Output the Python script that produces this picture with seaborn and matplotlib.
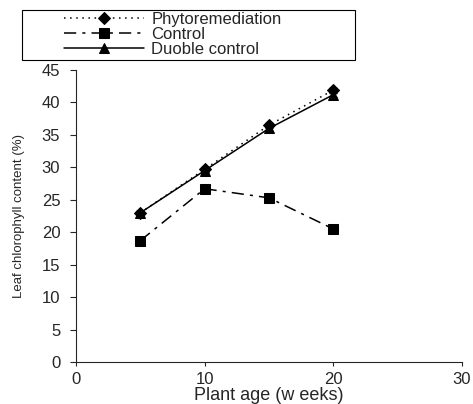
import matplotlib
matplotlib.use("Agg")
import matplotlib.pyplot as plt
import seaborn as sns
import pandas as pd
from matplotlib.patches import Rectangle

weeks = [5, 10, 15, 20]
phyto = [23.0, 29.7, 36.5, 41.9]
control = [18.7, 26.7, 25.3, 20.5]
double = [23.0, 29.5, 36.0, 41.2]
phyto_err = [0.3, 0.4, 0.4, 0.4]
control_err = [0.3, 0.3, 0.3, 0.3]
double_err = [0.3, 0.4, 0.4, 0.4]
series_names = ["Phytoremediation", "Control", "Duoble control"]

sns.set_style("ticks")
plt.rcParams['font.family'] = ['Liberation Sans', 'DejaVu Sans']

W, H = 473, 404
fig = plt.figure(figsize=(4.73, 4.04), dpi=100)
ax = fig.add_axes([76 / W, 1 - 362 / H, 386 / W, 292 / H])

specs = [
    (phyto, phyto_err, (0, (1, 3)), "D", 6),
    (control, control_err, (0, (8, 4, 2, 4)), "s", 7),
    (double, double_err, "-", "^", 7),
]
for name, (vals, errs, ls, mk, ms) in zip(series_names, specs):
    df = pd.DataFrame({"x": weeks, "y": vals})
    sns.lineplot(data=df, x="x", y="y", ax=ax, color="black", linestyle=ls,
                 marker=mk, markersize=ms, markeredgecolor="black", lw=1.1, label=name)
    ax.errorbar(weeks, vals, yerr=errs, fmt="none", ecolor="black", elinewidth=0.8, capsize=3)

ax.set_xlim(0, 30)
ax.set_ylim(0, 45)
ax.set_xticks([0, 10, 20, 30])
ax.set_yticks(range(0, 50, 5))
ax.tick_params(axis="x", direction="out", length=3, labelsize=12, pad=4)
ax.tick_params(axis="y", direction="out", length=4.3, labelsize=12, pad=7)
sns.despine(ax=ax)
for s in ["left", "bottom"]:
    ax.spines[s].set_linewidth(0.8)
ax.set_xlabel("Plant age (w eeks)", fontsize=13, labelpad=0.5)
ax.set_ylabel("Leaf chlorophyll content (%)", fontsize=9.5, labelpad=12)

handles, labels = ax.get_legend_handles_labels()
ax.get_legend().remove()
leg = fig.legend(handles, labels, loc="upper left", bbox_to_anchor=(62 / W, 1 - 10 / H),
                 ncol=1, prop={"size": 12}, frameon=False,
                 handlelength=4.8, labelspacing=0.0, borderpad=0.1, handletextpad=0.45,
                 borderaxespad=0)
fig.patches.append(Rectangle((22 / W, 1 - 60 / H), 333 / W, 50 / H, transform=fig.transFigure,
                             fill=False, edgecolor="black", linewidth=0.8))

fig.savefig("out.png", dpi=100)
